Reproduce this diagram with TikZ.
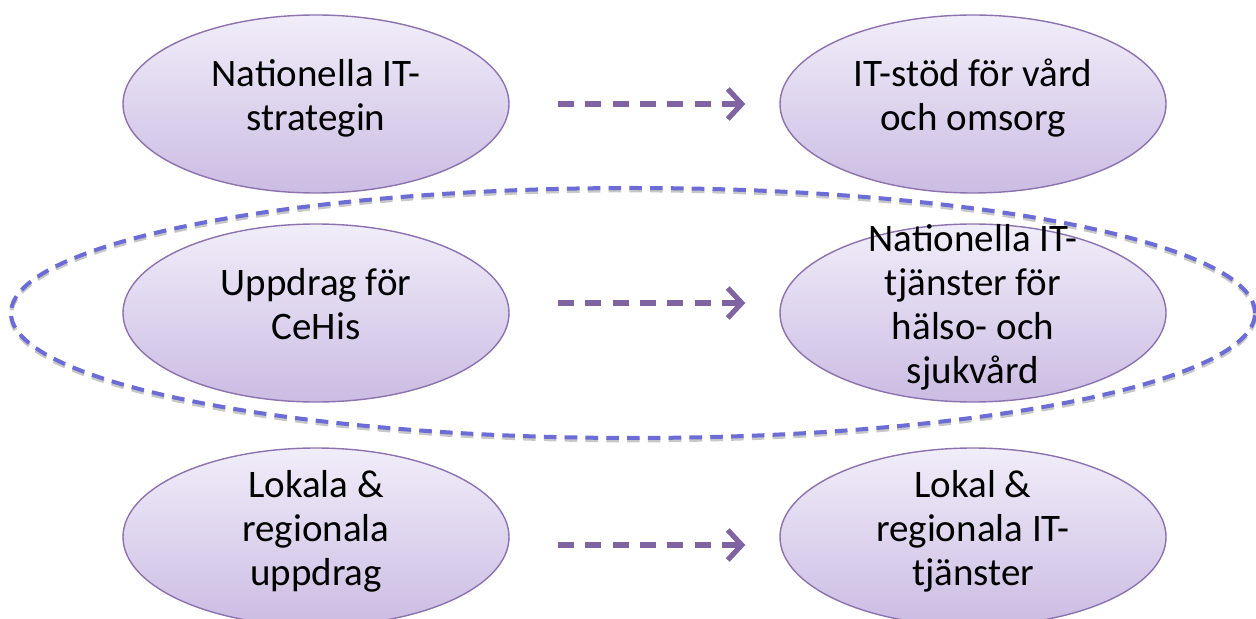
\documentclass[tikz,border=0pt]{standalone}
\usepackage{fontspec}
\setmainfont{Carlito}
\usetikzlibrary{arrows.meta,shapes.geometric}
\definecolor{blobedge}{RGB}{140,114,174}
\definecolor{blobtop}{RGB}{241,237,249}
\definecolor{blobbot}{RGB}{203,188,227}
\definecolor{flowpurple}{RGB}{128,100,162}
\definecolor{ringblue}{RGB}{108,108,214}
\newcommand{\blobtext}[1]{\raisebox{-6pt}{\smash{\begin{tabular}[c]{@{}c@{}}#1\end{tabular}}}}

\begin{document}
\begin{tikzpicture}[x=0.5pt,y=-0.5pt,
    blob/.style={ellipse,draw=blobedge,line width=0.7pt,top color=blobtop,bottom color=blobbot,
        minimum width=193pt,minimum height=89pt,inner sep=0pt,font=\fontsize{19.5}{22}\selectfont},
    flow/.style={draw=flowpurple,line width=2.6pt,dash pattern=on 8pt off 5.7pt,
        -{Straight Barb[length=7pt,width=15pt]},shorten <=24pt,shorten >=17pt},
    ring/.style={ellipse,draw=ringblue,line width=2pt,dash pattern=on 6.3pt off 4.1pt,
        minimum width=622pt,minimum height=125pt,inner sep=0pt,
        preaction={draw=black!22,transform canvas={yshift=-1.2pt}}}]
    \useasboundingbox (0,0) rectangle (1256,619);

    % ring round the middle row
    \node[ring] (natl) at (633,313) {};

    % left column
    \node[blob] (strat) at (316,104) {\blobtext{Nationella IT-\\strategin}};
    \node[blob] (uppdr) at (316,313) {\blobtext{Uppdrag för\\CeHis}};
    \node[blob] (lokup) at (316,537) {\blobtext{Lokala \&\\regionala\\uppdrag}};

    % right column
    \node[blob] (stod) at (973,104) {\blobtext{IT-stöd för vård\\och omsorg}};
    \node[blob] (ntj) at (973,313) {\blobtext{Nationella IT-\\tjänster för\\hälso- och\\sjukvård}};
    \node[blob] (loktj) at (973,537) {\blobtext{Lokal \&\\regionala IT-\\tjänster}};

    % dashed arrows
    \draw[flow] (strat) -- (stod);
    \draw[flow] ([yshift=5pt]uppdr.east) -- ([yshift=5pt]ntj.west);
    \draw[flow] ([yshift=-4pt]lokup.east) -- ([yshift=-4pt]loktj.west);
\end{tikzpicture}
\end{document}
